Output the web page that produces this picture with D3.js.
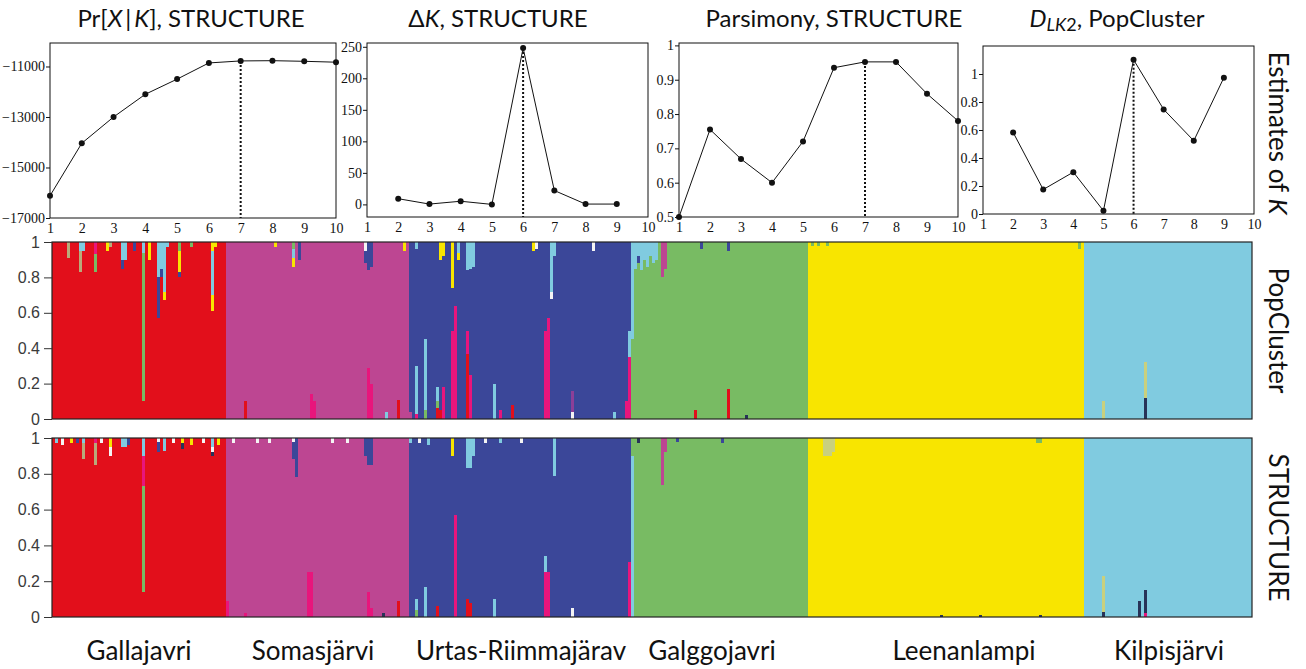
<!DOCTYPE html>
<html><head><meta charset="utf-8">
<script src="https://cdn.jsdelivr.net/npm/d3@7"></script>
<style>body{margin:0;background:#fff}svg{display:block}</style>
</head><body>
<svg id="c" width="1306" height="669"></svg>
<script>
// ---------- Estimates of K (top row) ----------
const kAll = [1,2,3,4,5,6,7,8,9,10];
const prXK = [-16120,-14040,-13000,-12100,-11500,-10860,-10780,-10770,-10795,-10830];
const deltaKK = [2,3,4,5,6,7,8,9];
const deltaK = [9,0.5,5,0,248,22,0.5,0.5];
const parsimony = [0.5,0.755,0.669,0.6,0.72,0.935,0.952,0.952,0.859,0.78];
const dlk2K = [2,3,4,5,6,7,8,9];
const dlk2 = [0.583,0.175,0.299,0.023,1.102,0.747,0.523,0.974];
const bestK = [7,6,7,6];
const prTicks = [-17000,-15000,-13000,-11000];
const deltaTicks = [0,50,100,150,200,250];
const parsTicks = [0.5,0.6,0.7,0.8,0.9,1];
const dlkTicks = [0,0.2,0.4,0.6,0.8,1];
const kTicks = [1,2,3,4,5,6,7,8,9,10];

// ---------- Admixture (bottom panels) ----------
const populations = ["Gallajavri","Somasjärvi","Urtas-Riimmajärav","Galggojavri","Leenanlampi","Kilpisjärvi"];
const sampleSizes = [58,61,74,59,92,56];
const homeCluster = ["red","magenta","blue","green","yellow","lightblue"];
const clusterKeys = ["red","magenta","blue","green","yellow","lightblue","pink","tan","dark","white","violet","khaki"];
const clusterColors = ["#e20f1b","#bd4692","#3b4799","#78bb63","#f8e500","#80cbe0","#e8157c","#b9aa7a","#283358","#f4f4f4","#8c3f98","#c9d07e"];
const qTicks = [0,0.2,0.4,0.6,0.8,1];

// [population, individual, membership segments bottom→top]
const popClusterAdmix = [
 [0,5,[["red",0.91],["tan",0.09]]],
 [0,9,[["red",0.83],["tan",0.12],["lightblue",0.05]]],
 [0,10,[["red",0.95],["lightblue",0.05]]],
 [0,14,[["red",0.83],["green",0.10],["pink",0.07]]],
 [0,18,[["red",0.95],["yellow",0.05]]],
 [0,19,[["red",0.97],["tan",0.03]]],
 [0,23,[["red",0.85],["blue",0.05],["lightblue",0.10]]],
 [0,24,[["red",0.90],["lightblue",0.10]]],
 [0,27,[["red",0.95],["blue",0.05]]],
 [0,30,[["red",0.10],["green",0.84],["lightblue",0.06]]],
 [0,32,[["red",0.90],["yellow",0.10]]],
 [0,35,[["red",0.57],["blue",0.23],["lightblue",0.20]]],
 [0,36,[["red",0.80],["blue",0.05],["lightblue",0.15]]],
 [0,37,[["red",0.67],["yellow",0.05],["lightblue",0.28]]],
 [0,38,[["red",0.97],["lightblue",0.03]]],
 [0,42,[["red",0.80],["blue",0.03],["yellow",0.12],["green",0.05]]],
 [0,46,[["red",0.97],["green",0.03]]],
 [0,53,[["red",0.61],["yellow",0.09],["lightblue",0.25],["yellow",0.05]]],
 [0,54,[["red",0.97],["yellow",0.03]]],
 [1,6,[["red",0.10],["magenta",0.90]]],
 [1,16,[["magenta",0.97],["yellow",0.03]]],
 [1,22,[["magenta",0.86],["yellow",0.05],["lightblue",0.05],["green",0.04]]],
 [1,24,[["magenta",0.90],["blue",0.10]]],
 [1,28,[["pink",0.14],["magenta",0.86]]],
 [1,29,[["pink",0.10],["magenta",0.90]]],
 [1,46,[["magenta",0.88],["blue",0.07],["white",0.05]]],
 [1,47,[["pink",0.29],["magenta",0.55],["blue",0.16]]],
 [1,48,[["pink",0.20],["magenta",0.66],["blue",0.14]]],
 [1,53,[["lightblue",0.04],["magenta",0.96]]],
 [1,57,[["red",0.11],["magenta",0.89]]],
 [1,59,[["magenta",0.95],["yellow",0.05]]],
 [2,0,[["magenta",0.04],["blue",0.96]]],
 [2,2,[["pink",0.03],["lightblue",0.27],["blue",0.66],["lightblue",0.04]]],
 [2,5,[["green",0.05],["lightblue",0.40],["blue",0.55]]],
 [2,9,[["red",0.06],["green",0.04],["lightblue",0.08],["blue",0.82]]],
 [2,10,[["red",0.05],["blue",0.85],["yellow",0.10]]],
 [2,11,[["pink",0.18],["blue",0.74],["yellow",0.08]]],
 [2,14,[["pink",0.50],["blue",0.24],["yellow",0.26]]],
 [2,15,[["pink",0.64],["blue",0.36]]],
 [2,16,[["blue",0.90],["yellow",0.04],["lightblue",0.06]]],
 [2,19,[["red",0.37],["pink",0.13],["blue",0.34],["lightblue",0.16]]],
 [2,20,[["pink",0.25],["blue",0.60],["lightblue",0.15]]],
 [2,21,[["blue",0.86],["lightblue",0.14]]],
 [2,28,[["lightblue",0.20],["blue",0.80]]],
 [2,30,[["pink",0.05],["blue",0.95]]],
 [2,34,[["red",0.08],["blue",0.92]]],
 [2,41,[["blue",0.95],["yellow",0.05]]],
 [2,42,[["blue",0.96],["white",0.04]]],
 [2,45,[["pink",0.50],["blue",0.50]]],
 [2,46,[["pink",0.57],["blue",0.43]]],
 [2,47,[["blue",0.68],["white",0.04],["lightblue",0.28]]],
 [2,48,[["blue",0.92],["lightblue",0.08]]],
 [2,54,[["white",0.04],["violet",0.12],["blue",0.84]]],
 [2,61,[["blue",0.95],["white",0.05]]],
 [2,68,[["lightblue",0.04],["blue",0.96]]],
 [2,72,[["pink",0.10],["blue",0.90]]],
 [2,73,[["pink",0.35],["lightblue",0.15],["blue",0.50]]],
 [3,0,[["green",0.45],["lightblue",0.55]]],
 [3,1,[["green",0.85],["lightblue",0.15]]],
 [3,2,[["green",0.88],["blue",0.04],["lightblue",0.08]]],
 [3,3,[["green",0.84],["lightblue",0.16]]],
 [3,4,[["green",0.90],["lightblue",0.10]]],
 [3,5,[["green",0.86],["lightblue",0.14]]],
 [3,6,[["green",0.92],["lightblue",0.08]]],
 [3,7,[["green",0.88],["lightblue",0.12]]],
 [3,8,[["green",0.90],["lightblue",0.10]]],
 [3,10,[["green",0.80],["magenta",0.20]]],
 [3,11,[["green",0.85],["magenta",0.15]]],
 [3,21,[["red",0.05],["green",0.95]]],
 [3,23,[["green",0.96],["blue",0.04]]],
 [3,32,[["red",0.17],["green",0.78],["blue",0.05]]],
 [3,38,[["dark",0.02],["green",0.98]]],
 [4,1,[["yellow",0.98],["green",0.02]]],
 [4,3,[["yellow",0.98],["green",0.02]]],
 [4,6,[["yellow",0.98],["green",0.02]]],
 [4,90,[["yellow",0.96],["green",0.04]]],
 [5,6,[["khaki",0.10],["lightblue",0.90]]],
 [5,20,[["dark",0.12],["khaki",0.20],["lightblue",0.68]]]
];

const structureAdmix = [
 [0,1,[["red",0.97],["lightblue",0.03]]],
 [0,3,[["red",0.96],["white",0.04]]],
 [0,6,[["red",0.97],["yellow",0.03]]],
 [0,8,[["red",0.97],["blue",0.03]]],
 [0,10,[["red",0.88],["tan",0.09],["lightblue",0.03]]],
 [0,14,[["red",0.85],["tan",0.12],["pink",0.03]]],
 [0,16,[["red",0.97],["white",0.03]]],
 [0,19,[["red",0.90],["white",0.05],["yellow",0.05]]],
 [0,23,[["red",0.95],["lightblue",0.05]]],
 [0,24,[["red",0.95],["lightblue",0.05]]],
 [0,25,[["red",0.96],["blue",0.04]]],
 [0,30,[["red",0.14],["green",0.59],["pink",0.17],["lightblue",0.10]]],
 [0,35,[["red",0.92],["blue",0.06],["white",0.02]]],
 [0,37,[["red",0.93],["lightblue",0.07]]],
 [0,40,[["red",0.97],["white",0.03]]],
 [0,43,[["red",0.94],["dark",0.03],["yellow",0.03]]],
 [0,46,[["red",0.96],["yellow",0.04]]],
 [0,50,[["red",0.97],["white",0.03]]],
 [0,53,[["red",0.90],["dark",0.02],["white",0.03],["lightblue",0.05]]],
 [0,55,[["red",0.96],["yellow",0.04]]],
 [1,0,[["pink",0.09],["magenta",0.91]]],
 [1,2,[["magenta",0.97],["white",0.03]]],
 [1,6,[["pink",0.02],["magenta",0.98]]],
 [1,10,[["magenta",0.97],["white",0.03]]],
 [1,14,[["magenta",0.97],["white",0.03]]],
 [1,22,[["magenta",0.88],["blue",0.10],["white",0.02]]],
 [1,23,[["magenta",0.78],["blue",0.22]]],
 [1,27,[["pink",0.25],["magenta",0.75]]],
 [1,28,[["pink",0.25],["magenta",0.75]]],
 [1,35,[["magenta",0.97],["white",0.03]]],
 [1,40,[["magenta",0.97],["white",0.03]]],
 [1,46,[["magenta",0.90],["blue",0.10]]],
 [1,47,[["pink",0.14],["magenta",0.71],["blue",0.15]]],
 [1,48,[["pink",0.05],["magenta",0.80],["blue",0.15]]],
 [1,52,[["dark",0.02],["magenta",0.98]]],
 [1,57,[["red",0.09],["magenta",0.91]]],
 [2,0,[["blue",0.97],["lightblue",0.03]]],
 [2,2,[["green",0.04],["lightblue",0.06],["blue",0.90]]],
 [2,3,[["blue",0.97],["white",0.03]]],
 [2,5,[["lightblue",0.17],["blue",0.83]]],
 [2,6,[["blue",0.96],["lightblue",0.04]]],
 [2,9,[["red",0.06],["blue",0.94]]],
 [2,14,[["blue",0.90],["yellow",0.10]]],
 [2,15,[["pink",0.57],["blue",0.43]]],
 [2,19,[["red",0.10],["blue",0.73],["lightblue",0.17]]],
 [2,20,[["red",0.08],["blue",0.75],["lightblue",0.17]]],
 [2,21,[["blue",0.90],["lightblue",0.10]]],
 [2,25,[["blue",0.97],["white",0.03]]],
 [2,28,[["lightblue",0.10],["blue",0.90]]],
 [2,30,[["blue",0.97],["lightblue",0.03]]],
 [2,37,[["blue",0.97],["white",0.03]]],
 [2,45,[["pink",0.25],["lightblue",0.09],["blue",0.66]]],
 [2,46,[["pink",0.25],["blue",0.75]]],
 [2,48,[["blue",0.79],["lightblue",0.21]]],
 [2,54,[["white",0.05],["blue",0.95]]],
 [2,73,[["pink",0.31],["blue",0.69]]],
 [3,0,[["lightblue",0.90],["green",0.10]]],
 [3,2,[["green",0.97],["dark",0.03]]],
 [3,10,[["green",0.74],["magenta",0.26]]],
 [3,11,[["green",0.92],["magenta",0.08]]],
 [3,15,[["green",0.98],["blue",0.02]]],
 [3,30,[["green",0.97],["blue",0.03]]],
 [4,5,[["yellow",0.90],["khaki",0.10]]],
 [4,6,[["yellow",0.90],["khaki",0.10]]],
 [4,7,[["yellow",0.90],["khaki",0.10]]],
 [4,8,[["yellow",0.92],["khaki",0.08]]],
 [4,44,[["dark",0.01],["yellow",0.99]]],
 [4,57,[["dark",0.01],["yellow",0.99]]],
 [4,76,[["yellow",0.97],["green",0.03]]],
 [4,77,[["dark",0.01],["yellow",0.96],["green",0.03]]],
 [5,6,[["dark",0.03],["khaki",0.20],["lightblue",0.77]]],
 [5,18,[["dark",0.09],["lightblue",0.91]]],
 [5,20,[["pink",0.02],["dark",0.13],["lightblue",0.85]]]
];

// ---------- drawing ----------
const svg = d3.select("#c");
const color = d3.scaleOrdinal(clusterKeys, clusterColors);
const TITLE_FONT = "Lato, 'Open Sans', sans-serif";
const SERIF = "'Liberation Serif', 'DejaVu Serif', serif";

function smallChart(cfg){
  const x = d3.scaleLinear([1,10],[cfg.x0,cfg.x1]);
  const y = d3.scaleLinear(cfg.domain,[cfg.y1,cfg.y0]);
  const g = svg.append("g");
  g.append("rect").attr("x",cfg.x0).attr("y",cfg.y0)
    .attr("width",cfg.x1-cfg.x0).attr("height",cfg.y1-cfg.y0)
    .attr("fill","none").attr("stroke","#111").attr("stroke-width",1);
  const ya = g.append("g").attr("transform",`translate(${cfg.x0},0)`)
    .call(d3.axisLeft(y).tickValues(cfg.ticks).tickSize(4).tickPadding(1).tickFormat(cfg.fmt));
  ya.select(".domain").remove();
  ya.selectAll("text").attr("font-family",SERIF).attr("font-size",14).attr("fill","#111");
  ya.selectAll("line").attr("stroke","#111");
  const xa = g.append("g").attr("transform",`translate(0,${cfg.y1})`)
    .call(d3.axisBottom(x).tickValues(kTicks).tickSize(0).tickPadding(5).tickFormat(d3.format("d")));
  xa.select(".domain").remove();
  xa.selectAll("text").attr("font-family",SERIF).attr("font-size",14).attr("fill","#111");
  const pts = cfg.ks.map((k,i)=>[k,cfg.vals[i]]);
  const bi = cfg.ks.indexOf(cfg.best);
  g.append("line").attr("x1",x(cfg.best)).attr("x2",x(cfg.best))
    .attr("y1",y(cfg.vals[bi])).attr("y2",cfg.y1)
    .attr("stroke","#111").attr("stroke-width",2).attr("stroke-dasharray","2,2");
  g.append("path").datum(pts)
    .attr("d",d3.line().x(d=>x(d[0])).y(d=>y(d[1])))
    .attr("fill","none").attr("stroke","#111").attr("stroke-width",1);
  g.selectAll("circle.p").data(pts).join("circle")
    .attr("cx",d=>x(d[0])).attr("cy",d=>y(d[1])).attr("r",3).attr("fill","#111");
}

smallChart({x0:50,x1:336,y0:43,y1:218,domain:[-17000,-10070],ticks:prTicks,fmt:d3.format("d"),ks:kAll,vals:prXK,best:bestK[0]});
smallChart({x0:367,x1:648,y0:43,y1:217,domain:[-20,256],ticks:deltaTicks,fmt:d3.format("d"),ks:deltaKK,vals:deltaK,best:bestK[1]});
smallChart({x0:679,x1:958,y0:43,y1:217,domain:[0.5,1.007],ticks:parsTicks,fmt:d=>d===1?"1":d.toFixed(1),ks:kAll,vals:parsimony,best:bestK[2]});
smallChart({x0:983,x1:1254,y0:46,y1:214,domain:[0,1.2],ticks:dlkTicks,fmt:d=>(d===0||d===1)?String(d):d.toFixed(1),ks:dlk2K,vals:dlk2,best:bestK[3]});

// titles
function title(cx, parts){
  const t = svg.append("text").attr("x",cx).attr("y",27).attr("text-anchor","middle")
    .attr("font-family",TITLE_FONT).attr("font-size",24).attr("fill","#111");
  parts.forEach(p=>{
    const s = t.append("tspan").text(p.t);
    if(p.i) s.attr("font-style","italic");
    if(p.sub) s.attr("font-size",18).attr("dy",p.dy);
    else if(p.dy) s.attr("dy",p.dy);
  });
}
title(191,[{t:"Pr["},{t:"X",i:1},{t:"\u2009|\u2009"},{t:"K",i:1},{t:"], STRUCTURE"}]);
title(498,[{t:"Δ"},{t:"K",i:1},{t:", STRUCTURE"}]);
title(834,[{t:"Parsimony, STRUCTURE"}]);
title(1117,[{t:"D",i:1},{t:"LK",i:1,sub:1,dy:4},{t:"2",sub:1,dy:0},{t:", PopCluster",dy:-4}]);

// ---------- admixture panels ----------
const N = d3.sum(sampleSizes);
const offsets = d3.cumsum([0,...sampleSizes]);
const xb = d3.scaleBand().domain(d3.range(N)).range([52,1252]).paddingInner(0).paddingOuter(0);

function buildIndividuals(admix){
  const map = new Map(admix.map(a=>[a[0]+"_"+a[1],a[2]]));
  const out = [];
  populations.forEach((p,pi)=>{
    for(let i=0;i<sampleSizes[pi];i++){
      const seg = map.get(pi+"_"+i) || [[homeCluster[pi],1]];
      out.push({gi:offsets[pi]+i, seg});
    }
  });
  return out;
}

function admixPanel(top,bottom,admix,label){
  const y = d3.scaleLinear([0,1],[bottom,top]);
  const g = svg.append("g");
  const inds = buildIndividuals(admix);
  const rects = [];
  inds.forEach(d=>{
    let c = 0;
    d.seg.forEach(s=>{ rects.push({gi:d.gi,k:s[0],y0:c,y1:c+s[1]}); c+=s[1]; });
  });
  g.selectAll("rect.b").data(rects).join("rect")
    .attr("x",d=>xb(d.gi)).attr("width",xb.bandwidth())
    .attr("y",d=>y(d.y1)).attr("height",d=>y(d.y0)-y(d.y1))
    .attr("fill",d=>color(d.k)).attr("shape-rendering","crispEdges");
  g.append("rect").attr("x",52).attr("y",top).attr("width",1200).attr("height",bottom-top)
    .attr("fill","none").attr("stroke","#222").attr("stroke-width",1.2);
  const ya = g.append("g").attr("transform","translate(52,0)")
    .call(d3.axisLeft(y).tickValues(qTicks).tickSize(8).tickPadding(4)
      .tickFormat(d=>(d===0||d===1)?String(d):d.toFixed(1)));
  ya.select(".domain").remove();
  ya.selectAll("text").attr("font-family","'Liberation Sans', Arial, sans-serif").attr("font-size",16).attr("fill","#3a3a3a");
  ya.selectAll("line").attr("stroke","#333");
  svg.append("text").attr("transform",`translate(1279,${(top+bottom)/2}) rotate(90)`)
    .attr("text-anchor","middle").attr("dominant-baseline","central")
    .attr("font-family",TITLE_FONT).attr("font-size",26).attr("fill","#111").text(label);
}
admixPanel(242,419,popClusterAdmix,"PopCluster");
admixPanel(438,617,structureAdmix,"STRUCTURE");

// right label for top row
const est = svg.append("text").attr("transform","translate(1279,133) rotate(90)")
  .attr("text-anchor","middle").attr("dominant-baseline","central")
  .attr("font-family",TITLE_FONT).attr("font-size",26).attr("fill","#111");
est.append("tspan").text("Estimates of ");
est.append("tspan").attr("font-style","italic").text("K");

// population labels (layout: label centres under the bars)
const labelCentres = [139,313,521,712,964,1169];
svg.selectAll("text.pop").data(populations).join("text")
  .attr("x",(d,i)=>labelCentres[i])
  .attr("y",660).attr("text-anchor","middle")
  .attr("font-family",TITLE_FONT).attr("font-size",26).attr("fill","#111").text(d=>d);
</script>
</body></html>
